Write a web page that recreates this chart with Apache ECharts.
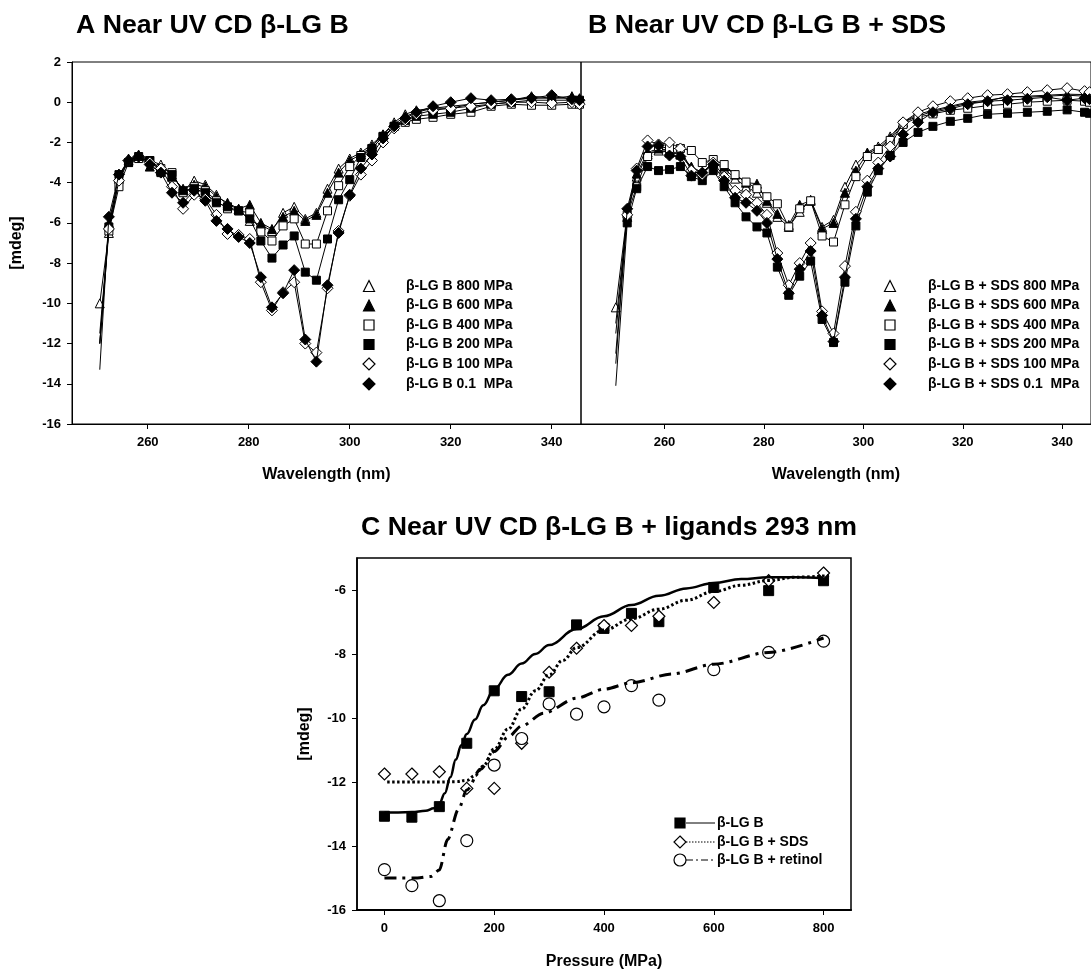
<!DOCTYPE html>
<html><head><meta charset="utf-8">
<script src="https://cdn.jsdelivr.net/npm/echarts@6/dist/echarts.min.js"></script>
<style>html,body{margin:0;padding:0;background:#fff}#c{width:1091px;height:971px}</style>
</head><body><div id="c"></div>
<script>
// ---------- Panel A: Near UV CD beta-LG B ----------
const wlA = [250.5, 252.3, 254.3, 256.2, 258.2, 260.4, 262.6, 264.8, 267, 269.2, 271.4, 273.6, 275.8, 278, 280.2, 282.4, 284.6, 286.8, 289, 291.2, 293.4, 295.6, 297.8, 300, 302.2, 304.4, 306.6, 308.8, 311, 313.2, 316.5, 320, 324, 328, 332, 336, 340, 344, 345.5];
const a800 = [-10.0, -6.5, -3.8, -2.9, -2.6, -2.9, -3.1, -3.6, -4.4, -3.9, -4.1, -4.6, -5.1, -5.3, -5.9, -6.1, -6.4, -5.5, -5.2, -5.8, -5.5, -4.3, -3.3, -2.8, -2.5, -2.1, -1.6, -1.0, -0.6, -0.4, -0.3, -0.2, -0.1, 0.0, 0.1, 0.3, 0.2, 0.2, 0.1];
const a600 = [-12.0, -6.0, -3.7, -2.8, -2.7, -3.2, -3.4, -3.7, -4.3, -4.1, -4.2, -4.7, -5.0, -5.3, -5.1, -6.0, -6.3, -5.7, -5.4, -5.9, -5.6, -4.5, -3.5, -2.9, -2.6, -2.2, -1.6, -1.1, -0.7, -0.5, -0.3, -0.3, -0.1, 0.0, 0.1, 0.2, 0.2, 0.3, 0.2];
const a400 = [-12.0, -6.4, -4.2, -3.0, -2.8, -2.9, -3.3, -3.5, -4.5, -4.2, -4.4, -4.9, -5.3, -5.4, -5.5, -6.45, -6.9, -6.15, -5.8, -7.05, -7.05, -5.4, -4.15, -3.2, -2.65, -2.3, -1.7, -1.2, -1.0, -0.85, -0.75, -0.6, -0.5, -0.2, -0.1, -0.15, -0.15, -0.1, -0.1];
const a200 = [-12.0, -6.2, -3.6, -3.0, -2.7, -2.9, -3.5, -3.6, -4.4, -4.3, -4.5, -5.0, -5.2, -5.4, -5.8, -6.9, -7.75, -7.1, -6.65, -8.45, -8.85, -6.8, -4.85, -3.85, -2.75, -2.3, -1.7, -1.2, -0.9, -0.7, -0.6, -0.5, -0.3, -0.1, 0.0, 0.1, 0.1, 0.1, 0.1];
const a100 = [-11.5, -6.3, -3.9, -2.9, -2.7, -3.0, -3.3, -4.2, -5.3, -4.6, -4.8, -5.6, -6.55, -6.6, -6.8, -8.95, -10.35, -9.45, -8.95, -12.0, -12.45, -9.25, -6.4, -4.65, -3.6, -2.9, -2.0, -1.3, -0.9, -0.6, -0.4, -0.3, -0.2, -0.1, 0.0, 0.0, -0.05, 0.0, -0.1];
const a01 = [-13.3, -5.7, -3.6, -2.9, -2.7, -3.1, -3.5, -4.5, -5.0, -4.4, -4.9, -5.9, -6.3, -6.7, -7.0, -8.7, -10.2, -9.5, -8.35, -11.8, -12.9, -9.1, -6.5, -4.6, -3.3, -2.6, -1.8, -1.2, -0.8, -0.5, -0.2, 0.0, 0.2, 0.1, 0.15, 0.2, 0.35, 0.15, 0.1];
const namesA = ['β-LG B 800 MPa', 'β-LG B 600 MPa', 'β-LG B 400 MPa', 'β-LG B 200 MPa', 'β-LG B 100 MPa', 'β-LG B 0.1  MPa'];

// ---------- Panel B: Near UV CD beta-LG B + SDS ----------
const wlB = [250.2, 252.5, 254.4, 256.6, 258.8, 261.0, 263.2, 265.4, 267.6, 269.8, 272.0, 274.2, 276.4, 278.6, 280.6, 282.7, 285.0, 287.2, 289.4, 291.7, 294.0, 296.3, 298.5, 300.8, 303.0, 305.4, 308.0, 311.0, 314.0, 317.5, 321.0, 325.0, 329.0, 333.0, 337.0, 341.0, 344.5, 345.5];
const b800 = [-10.2, -5.5, -3.7, -2.6, -2.4, -2.5, -2.6, -3.3, -3.5, -3.0, -3.3, -3.8, -4.2, -4.5, -5.0, -5.7, -6.2, -5.45, -4.85, -6.2, -5.85, -4.2, -3.1, -2.5, -2.2, -1.7, -1.0, -0.6, -0.4, -0.2, 0.0, 0.1, 0.25, 0.3, 0.35, 0.4, 0.38, 0.3];
const b600 = [-11.5, -5.7, -3.55, -2.5, -2.3, -2.4, -2.6, -3.2, -3.5, -3.0, -3.2, -3.6, -4.0, -4.05, -4.9, -5.55, -6.1, -5.1, -4.9, -6.3, -6.0, -4.5, -3.4, -2.55, -2.3, -1.8, -1.0, -0.7, -0.45, -0.25, -0.05, 0.05, 0.3, 0.25, 0.3, 0.35, 0.3, 0.25];
const b400 = [-11.0, -5.6, -4.2, -2.7, -2.2, -2.3, -2.3, -2.4, -3.0, -2.85, -3.1, -3.6, -3.97, -4.3, -4.7, -5.05, -6.2, -5.3, -4.9, -6.65, -6.95, -5.1, -3.7, -2.7, -2.35, -1.9, -1.1, -0.75, -0.58, -0.4, -0.3, -0.17, -0.1, 0.0, 0.05, 0.1, 0.05, 0.0];
const b200 = [-14.1, -6.0, -4.3, -3.2, -3.4, -3.35, -3.2, -3.7, -3.9, -3.4, -4.2, -5.0, -5.7, -6.2, -6.5, -8.2, -9.6, -8.65, -7.9, -10.8, -11.95, -8.95, -6.15, -4.47, -3.4, -2.65, -2.0, -1.5, -1.2, -0.95, -0.8, -0.6, -0.55, -0.5, -0.45, -0.38, -0.5, -0.55];
const b100 = [-12.5, -5.6, -3.3, -1.9, -2.1, -2.0, -2.3, -3.4, -3.6, -3.0, -3.7, -4.4, -4.6, -5.0, -5.6, -7.5, -9.1, -8.0, -7.0, -10.4, -11.5, -8.15, -5.45, -3.9, -3.0, -2.2, -1.0, -0.5, -0.2, 0.05, 0.2, 0.35, 0.4, 0.5, 0.6, 0.7, 0.55, 0.5];
const b01 = [-13.0, -5.3, -3.4, -2.2, -2.15, -2.65, -2.7, -3.65, -3.5, -3.1, -3.9, -4.75, -5.0, -5.4, -6.0, -7.8, -9.5, -8.3, -7.4, -10.6, -11.9, -8.7, -5.8, -4.2, -3.3, -2.7, -1.6, -1.0, -0.5, -0.33, -0.1, 0.05, 0.1, 0.17, 0.25, 0.1, 0.2, 0.15];
const namesB = ['β-LG B + SDS 800 MPa', 'β-LG B + SDS 600 MPa', 'β-LG B + SDS 400 MPa', 'β-LG B + SDS 200 MPa', 'β-LG B + SDS 100 MPa', 'β-LG B + SDS 0.1  MPa'];

const wlTicks = [260, 280, 300, 320, 340];
const mdegTicksAB = [-16, -14, -12, -10, -8, -6, -4, -2, 0, 2];

// ---------- Panel C: 293 nm vs pressure ----------
const pC = [0, 50, 100, 150, 200, 250, 300, 350, 400, 450, 500, 600, 700, 800];
const cLG = [-13.07, -13.1, -12.77, -10.79, -9.15, -9.33, -9.18, -7.09, -7.2, -6.73, -6.99, -5.92, -6.02, -5.71];
const cSDS = [-11.75, -11.75, -11.68, -12.2, -12.2, -10.79, -8.57, -7.82, -7.11, -7.11, -6.82, -6.39, -5.71, -5.47];
const cRet = [-14.74, -15.24, -15.71, -13.83, -11.47, -10.64, -9.56, -9.88, -9.65, -8.99, -9.44, -8.49, -7.95, -7.6];
// fitted curves
const fitLGx = [0, 25, 50, 75, 90, 100, 110, 120, 130, 140, 150, 165, 180, 200, 225, 250, 275, 300, 350, 400, 450, 500, 550, 600, 650, 700, 750, 800];
const fitLGy = [-12.95, -12.95, -12.94, -12.9, -12.82, -12.68, -12.35, -11.85, -11.3, -10.85, -10.5, -10.05, -9.6, -9.1, -8.65, -8.3, -8.0, -7.72, -7.22, -6.82, -6.47, -6.18, -5.95, -5.78, -5.66, -5.6, -5.6, -5.63];
const fitSDSx = [5, 50, 100, 130, 150, 165, 180, 200, 225, 250, 275, 300, 325, 350, 400, 450, 500, 550, 600, 650, 700, 750, 810];
const fitSDSy = [-12.0, -12.0, -12.0, -11.99, -11.95, -11.8, -11.5, -10.97, -10.35, -9.72, -9.15, -8.65, -8.2, -7.8, -7.25, -6.9, -6.6, -6.32, -6.05, -5.85, -5.7, -5.6, -5.55];
const fitRetx = [0, 30, 60, 85, 100, 115, 135, 150, 175, 200, 225, 250, 290, 350, 400, 450, 525, 600, 700, 800];
const fitRety = [-15.0, -15.0, -15.0, -14.95, -14.75, -13.8, -12.85, -12.25, -11.6, -11.05, -10.6, -10.25, -9.85, -9.38, -9.1, -8.9, -8.62, -8.32, -7.95, -7.5];
const pTicks = [0, 200, 400, 600, 800];
const mdegTicksC = [-16, -14, -12, -10, -8, -6];
const namesC = ['β-LG B', 'β-LG B + SDS', 'β-LG B + retinol'];

// ---------- styling ----------
const FONT = '"Liberation Sans", Arial, Helvetica, sans-serif';
const lab = {color: '#000', fontWeight: 'bold', fontSize: 13, fontFamily: FONT};
const axName = {color: '#000', fontWeight: 'bold', fontSize: 16, fontFamily: FONT};
const blk = {color: '#000', width: 1};
const syms = [['triangle', false, 9], ['triangle', true, 9], ['rect', false, 8], ['rect', true, 8], ['diamond', false, 11], ['diamond', true, 11]];

function zip(xs, ys) { return xs.map((x, i) => [x, ys[i]]); }
function spec(name, idx, xs, ys, k) {
  const s = syms[k];
  return {
    name, type: 'line', xAxisIndex: idx, yAxisIndex: idx, data: zip(xs, ys),
    symbol: (v, p) => (p.dataIndex === 0 && k !== 0) ? 'none' : s[0],
    symbolSize: s[2], showAllSymbol: true, silent: true,
    lineStyle: {color: '#000', width: 1},
    itemStyle: {color: s[1] ? '#000' : '#fff', borderColor: '#000', borderWidth: 1, opacity: 1},
    z: 2 + k
  };
}

const seriesA = [a800, a600, a400, a200, a100, a01];
const seriesB = [b800, b600, b400, b200, b100, b01];
const series = [];
seriesA.forEach((v, k) => series.push(spec(namesA[k], 0, wlA, v, k)));
seriesB.forEach((v, k) => series.push(spec(namesB[k], 1, wlB, v, k)));

// panel C
series.push({type: 'scatter', xAxisIndex: 2, yAxisIndex: 2, data: zip(pC, cLG), symbol: 'rect', symbolSize: 10, itemStyle: {color: '#000', borderColor: '#000', borderWidth: 1, opacity: 1}, z: 2, silent: true});
series.push({type: 'scatter', xAxisIndex: 2, yAxisIndex: 2, data: zip(pC, cSDS), symbol: 'diamond', symbolSize: 12, itemStyle: {color: '#fff', borderColor: '#000', borderWidth: 1.2, opacity: 1}, z: 2, silent: true});
series.push({type: 'scatter', xAxisIndex: 2, yAxisIndex: 2, data: zip(pC, cRet), symbol: 'circle', symbolSize: 12, itemStyle: {color: '#fff', borderColor: '#000', borderWidth: 1.2, opacity: 1}, z: 2, silent: true});
series.push({type: 'line', xAxisIndex: 2, yAxisIndex: 2, data: zip(fitLGx, fitLGy), symbol: 'none', smooth: 0.4, smoothMonotone: 'x', lineStyle: {color: '#000', width: 2.5}, z: 5, silent: true});
series.push({type: 'line', xAxisIndex: 2, yAxisIndex: 2, data: zip(fitSDSx, fitSDSy), symbol: 'none', smooth: 0.4, smoothMonotone: 'x', lineStyle: {color: '#000', width: 3, type: [2.5, 2.5]}, z: 5, silent: true});
series.push({type: 'line', xAxisIndex: 2, yAxisIndex: 2, data: zip(fitRetx, fitRety), symbol: 'none', smooth: 0.3, smoothMonotone: 'x', lineStyle: {color: '#000', width: 3, type: [12, 6, 3, 6]}, z: 5, silent: true});

function xAx(idx, min, max, ticks, name, gap, w) {
  return {
    gridIndex: idx, type: 'value', min, max,
    axisLine: {onZero: false, lineStyle: {color: '#000', width: w || 1}}, splitLine: {show: false},
    axisTick: {show: true, length: 5, inside: false, customValues: ticks, lineStyle: blk},
    axisLabel: Object.assign({customValues: ticks, margin: 12}, lab),
    name, nameLocation: 'middle', nameGap: gap, nameTextStyle: axName
  };
}
function yAx(idx, min, max, ticks, name, gap, show, w) {
  return {
    gridIndex: idx, type: 'value', min, max,
    axisLine: {show: show, onZero: false, lineStyle: {color: '#000', width: w || 1}}, splitLine: {show: false},
    axisTick: {show: show, length: 5, customValues: ticks, lineStyle: blk},
    axisLabel: Object.assign({show: show, customValues: ticks, margin: 11}, lab),
    name: show ? name : '', nameLocation: 'middle', nameRotate: 90, nameGap: gap, nameTextStyle: axName
  };
}

// legends (graphic, decorative)
const graphic = [];
function symbolEl(type, filled, cx, cy, s) {
  const style = {fill: filled ? '#000' : '#fff', stroke: '#000', lineWidth: 1.2};
  if (type === 'triangle') return {type: 'polygon', shape: {points: [[cx, cy - s / 2], [cx + s / 2, cy + s / 2], [cx - s / 2, cy + s / 2]]}, style};
  if (type === 'rect') return {type: 'rect', shape: {x: cx - s / 2, y: cy - s / 2, width: s, height: s}, style};
  if (type === 'diamond') return {type: 'polygon', shape: {points: [[cx, cy - s / 2], [cx + s / 2, cy], [cx, cy + s / 2], [cx - s / 2, cy]]}, style};
  return {type: 'circle', shape: {cx, cy, r: s / 2}, style};
}
const legRows = [286, 305.5, 325, 344.5, 364, 384];
const legSym = [['triangle', false, 11], ['triangle', true, 11], ['rect', false, 10], ['rect', true, 10], ['diamond', false, 12], ['diamond', true, 12]];
const legFont = 'bold 14px ' + FONT;
legRows.forEach((y, k) => {
  const s = legSym[k];
  graphic.push(symbolEl(s[0], s[1], 369, y, s[2]));
  graphic.push({type: 'text', style: {text: namesA[k], x: 406, y, verticalAlign: 'middle', font: legFont, fill: '#000'}});
  graphic.push(symbolEl(s[0], s[1], 890, y, s[2]));
  graphic.push({type: 'text', style: {text: namesB[k], x: 928, y, verticalAlign: 'middle', font: legFont, fill: '#000'}});
});
const legCRows = [823, 842, 860];
const legCSym = [['rect', true, 10], ['diamond', false, 12], ['circle', false, 12]];
const legCDash = [null, [1.5, 1.5], [7, 3, 2, 3]];
legCRows.forEach((y, k) => {
  const s = legCSym[k];
  graphic.push({type: 'line', shape: {x1: 686, y1: y, x2: 715, y2: y}, style: {stroke: '#000', lineWidth: 1, lineDash: legCDash[k]}});
  graphic.push(symbolEl(s[0], s[1], 680, y, s[2]));
  graphic.push({type: 'text', style: {text: namesC[k], x: 717, y, verticalAlign: 'middle', font: legFont, fill: '#000'}});
});

const titleStyle = {color: '#000', fontWeight: 'bold', fontSize: 26.7, fontFamily: FONT};
const option = {
  animation: false,
  backgroundColor: '#fff',
  title: [
    {text: 'A Near UV CD β-LG B', left: 76, top: 12, padding: 0, textStyle: titleStyle},
    {text: 'B Near UV CD β-LG B + SDS', left: 588, top: 12, padding: 0, textStyle: titleStyle},
    {text: 'C Near UV CD β-LG B + ligands 293 nm', left: 361, top: 514, padding: 0, textStyle: titleStyle}
  ],
  grid: [
    {left: 72, top: 62, width: 509, height: 362, show: true, borderColor: '#000', borderWidth: 1, backgroundColor: 'transparent'},
    {left: 581, top: 62, width: 519, height: 362, show: true, borderColor: '#000', borderWidth: 1, backgroundColor: 'transparent'},
    {left: 357, top: 558, width: 494, height: 354, show: true, borderColor: '#000', borderWidth: 1.5, backgroundColor: 'transparent'}
  ],
  xAxis: [
    xAx(0, 245, 345.8, wlTicks, 'Wavelength (nm)', 43),
    xAx(1, 243.2, 345.8, wlTicks, 'Wavelength (nm)', 43),
    xAx(2, -50, 850, pTicks, 'Pressure (MPa)', 44, 2)
  ],
  yAxis: [
    yAx(0, -16, 2, mdegTicksAB, '[mdeg]', 47, true),
    yAx(1, -16, 2, mdegTicksAB, '', 40, false),
    yAx(2, -16, -5, mdegTicksC, '[mdeg]', 44, true, 1.5)
  ],
  series,
  graphic
};
echarts.init(document.getElementById('c'), null, {renderer: 'canvas'}).setOption(option);
</script>
</body></html>
